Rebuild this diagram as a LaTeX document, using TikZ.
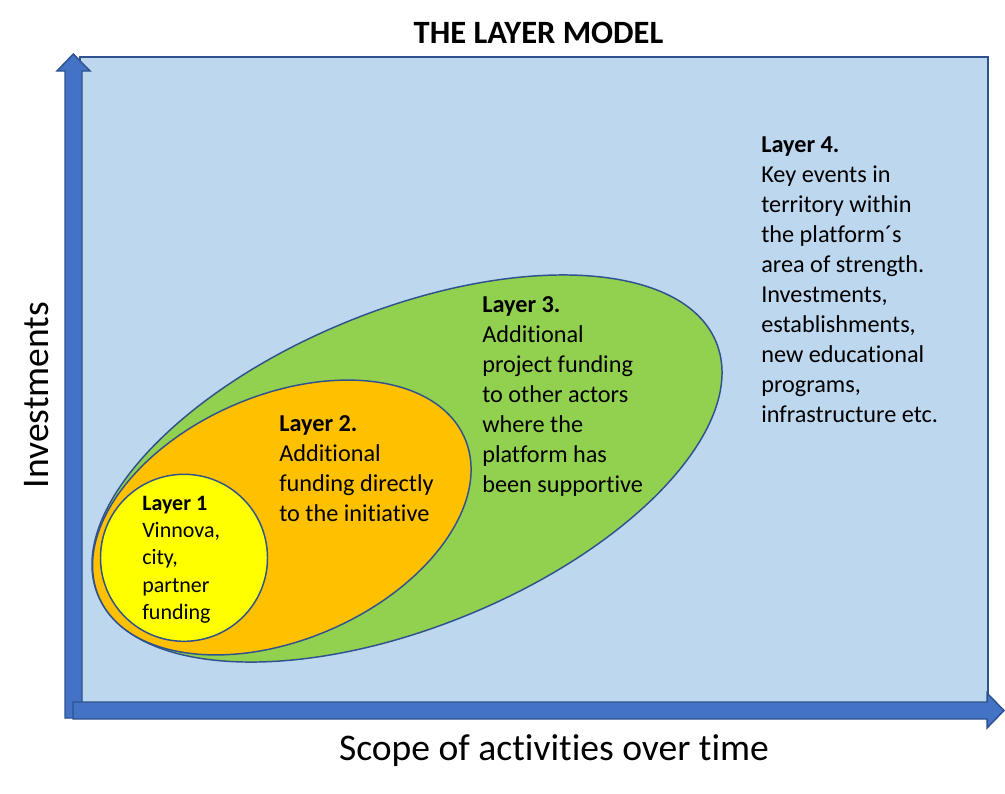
\documentclass[tikz,border=0pt]{standalone}
\usepackage{fontspec}
\setmainfont{Carlito}[RawFeature={-liga;-clig}]
\definecolor{bgblue}{HTML}{BDD7EE}
\definecolor{edgeblue}{HTML}{2F528F}
\definecolor{arrowblue}{HTML}{4472C4}
\definecolor{lgreen}{HTML}{92D050}
\definecolor{lorange}{HTML}{FFC000}
\definecolor{lyellow}{HTML}{FFFF00}
\tikzset{
  layerfill/.style={draw=edgeblue, line width=1.1pt},
  axisarrow/.style={fill=arrowblue, draw=edgeblue, line width=1.1pt, line join=miter},
  layertext/.style={anchor=base west, inner sep=0pt, font=\fontsize{18.2}{22.5}\selectfont},
  smalltext/.style={anchor=base west, inner sep=0pt, font=\fontsize{16.5}{20.5}\selectfont},
  axislabel/.style={anchor=base, inner sep=0pt, font=\fontsize{28.2}{33}\selectfont},
}
\begin{document}
\begin{tikzpicture}[x=0.75pt,y=-0.75pt]
\useasboundingbox (0,0) rectangle (1005,793);
% background panel
\draw[fill=bgblue, draw=edgeblue, line width=1.5pt] (80,57) rectangle (988,704);
% layers
\filldraw[layerfill, fill=lgreen, rotate around={22.2:(407,468.5)}] (407,468.5) ellipse [x radius=334, y radius=158.5];
\filldraw[layerfill, fill=lorange, rotate around={23.5:(281.8,517.5)}] (281.8,517.5) ellipse [x radius=199.4, y radius=122.2];
\filldraw[layerfill, fill=lyellow] (184,557.8) circle [radius=83.5];
% texts
\node[layertext] (l4) at (761,152) {\begin{tabular}[t]{@{}l@{}}\textbf{Layer 4.}\\Key events in\\territory within\\the platform´s\\area of strength.\\Investments,\\establishments,\\new educational\\programs,\\infrastructure etc.\end{tabular}};
\node[layertext] (l3) at (482,312) {\begin{tabular}[t]{@{}l@{}}\textbf{Layer 3.}\\Additional\\project funding\\to other actors\\where the\\platform has\\been supportive\end{tabular}};
\node[layertext] (l2) at (279,431) {\begin{tabular}[t]{@{}l@{}}\textbf{Layer 2.}\\Additional\\funding directly\\to the initiative\end{tabular}};
\node[smalltext] (l1) at (142,510) {\begin{tabular}[t]{@{}l@{}}\textbf{Layer 1}\\Vinnova,\\city,\\partner\\funding\end{tabular}};
% axes
\draw[axisarrow] (65,718) -- (65,71) -- (57,71) -- (73.3,54) -- (90,71) -- (82,71) -- (82,718) -- cycle;
\draw[axisarrow] (73,702) -- (987,702) -- (987,693) -- (1004,710.5) -- (987,728) -- (987,719) -- (73,719) -- cycle;
% labels
\node[anchor=base, inner sep=0pt, font=\fontsize{24.4}{28}\selectfont\bfseries] (title) at (538.5,43) {THE LAYER MODEL};
\node[axislabel, rotate=90] (ylab) at (48,395) {Investments};
\node[axislabel] (xlab) at (554,760) {Scope of activities over time};
\end{tikzpicture}
\end{document}
